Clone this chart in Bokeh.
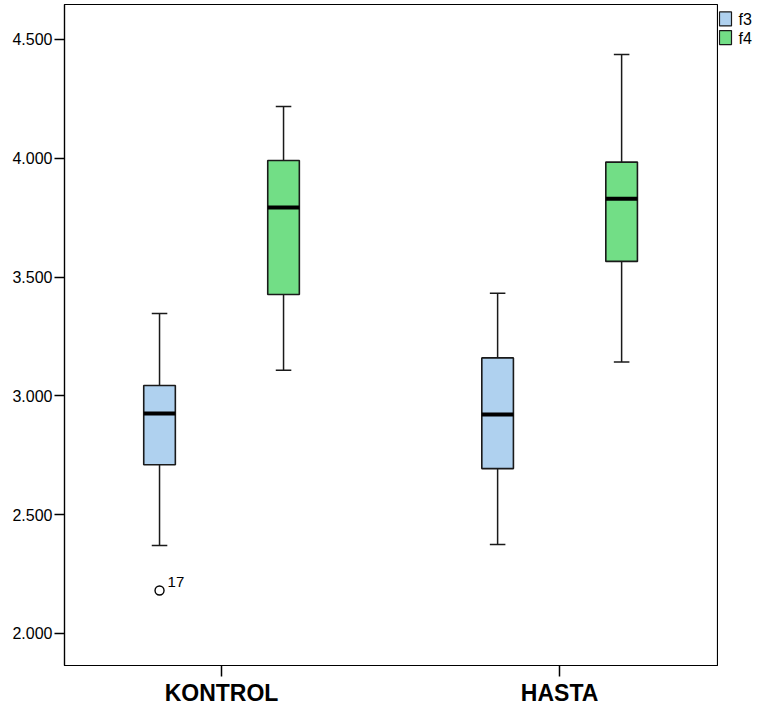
from bokeh.plotting import figure
from bokeh.models import (ColumnDataSource, FixedTicker, NumeralTickFormatter, Range1d)
from bokeh.layouts import row
from bokeh.embed import file_html
from bokeh.resources import INLINE
from bokeh.core.properties import value

# ---------------- data ----------------
groups = ["KONTROL", "HASTA"]
series = ["f3", "f4"]

f3_low = [2.370, 2.375]
f3_q1 = [2.710, 2.694]
f3_median = [2.926, 2.922]
f3_q3 = [3.044, 3.160]
f3_high = [3.347, 3.432]

f4_low = [3.108, 3.143]
f4_q1 = [3.427, 3.566]
f4_median = [3.793, 3.830]
f4_q3 = [3.991, 3.984]
f4_high = [4.218, 4.437]

outlier_group = ["KONTROL"]
outlier_series = ["f3"]
outlier_value = [2.181]
outlier_label = ["17"]

y_ticks = [2.0, 2.5, 3.0, 3.5, 4.0, 4.5]

colors = {"f3": "#AFD1EF", "f4": "#72DE86"}
offsets = {"f3": -0.1834, "f4": 0.1834}
box_w = 0.0935
cap_w = 0.046
FONT = "Liberation Sans"
H = 709

stats = {
    "f3": (f3_low, f3_q1, f3_median, f3_q3, f3_high),
    "f4": (f4_low, f4_q1, f4_median, f4_q3, f4_high),
}

p = figure(width=718, height=H, output_backend="svg", toolbar_location=None,
           x_range=Range1d(0.5355, 2.467), y_range=Range1d(1.8653, 4.6473),
           min_border_left=64, min_border_top=4, min_border_right=1,
           min_border_bottom=44)
p.xgrid.visible = False
p.ygrid.visible = False
p.outline_line_color = "black"
p.outline_line_width = 1.2
p.background_fill_color = "white"

for s in series:
    low, q1, med, q3, high = stats[s]
    xs = [i + 1 + offsets[s] for i in range(len(groups))]
    src = ColumnDataSource(dict(
        x=xs, left=[x - box_w / 2 for x in xs], right=[x + box_w / 2 for x in xs],
        cl=[x - cap_w / 2 for x in xs], cr=[x + cap_w / 2 for x in xs],
        low=low, q1=q1, med=med, q3=q3, high=high))
    # whiskers
    p.segment(x0="x", y0="q3", x1="x", y1="high", source=src, line_color="#1a1a1a", line_width=1.5)
    p.segment(x0="x", y0="q1", x1="x", y1="low", source=src, line_color="#1a1a1a", line_width=1.5)
    # caps
    p.segment(x0="cl", y0="high", x1="cr", y1="high", source=src, line_color="#1a1a1a", line_width=1.5)
    p.segment(x0="cl", y0="low", x1="cr", y1="low", source=src, line_color="#1a1a1a", line_width=1.5)
    # box
    p.quad(left="left", right="right", bottom="q1", top="q3", source=src,
           fill_color=colors[s], line_color="#1a1a1a", line_width=1.6)
    # median
    p.segment(x0="left", y0="med", x1="right", y1="med", source=src, line_color="black",
              line_width=4, line_cap="butt")

# outliers
ox = [groups.index(g) + 1 + offsets[s] for g, s in zip(outlier_group, outlier_series)]
osrc = ColumnDataSource(dict(x=ox, y=outlier_value, t=outlier_label))
p.scatter(x="x", y="y", source=osrc, marker="circle", size=9, fill_color="white",
          line_color="black", line_width=1.4)
p.text(x="x", y="y", text="t", source=osrc, x_offset=8, y_offset=-8,
       text_baseline="alphabetic", text_align="left", text_font=value(FONT),
       text_font_size="15px", text_color="black")

# axes
p.xaxis.ticker = FixedTicker(ticks=[1, 2])
p.xaxis.major_label_overrides = {1: groups[0], 2: groups[1]}
p.xaxis.major_label_text_font = FONT
p.xaxis.major_label_text_font_size = "23px"
p.xaxis.major_label_text_font_style = "bold"
p.xaxis.major_label_text_color = "black"
p.xaxis.major_label_standoff = 3
p.xaxis.major_tick_in = 0
p.xaxis.major_tick_out = 11
p.xaxis.minor_tick_line_color = None

p.yaxis.ticker = FixedTicker(ticks=y_ticks)
p.yaxis.formatter = NumeralTickFormatter(format="0.000")
p.yaxis.major_label_text_font = FONT
p.yaxis.major_label_text_font_size = "16px"
p.yaxis.major_label_text_color = "black"
p.yaxis.major_label_standoff = 2
p.yaxis.major_tick_in = 0
p.yaxis.major_tick_out = 10
p.yaxis.minor_tick_line_color = None

for ax in (p.xaxis[0], p.yaxis[0]):
    ax.axis_line_color = "black"
    ax.axis_line_width = 1.2
    ax.major_tick_line_color = "black"
    ax.major_tick_line_width = 1.5

# ---- legend panel (separate small figure to the right of the frame) ----
LW = 39
lg = figure(width=LW, height=H, output_backend="svg", toolbar_location=None,
            x_range=Range1d(0, LW), y_range=Range1d(H, 0),
            min_border=0, x_axis_type=None, y_axis_type=None)
lg.outline_line_color = None
lg.xgrid.visible = False
lg.ygrid.visible = False
row_top = [8 + 20 * i for i in range(len(series))]
lsrc = ColumnDataSource(dict(
    left=[1] * len(series), right=[13] * len(series),
    top=row_top, bottom=[t + 15 for t in row_top],
    ty=[t + 8 for t in row_top], tx=[20] * len(series),
    fill=[colors[s] for s in series], label=series))
lg.quad(left="left", right="right", top="top", bottom="bottom", source=lsrc,
        fill_color="fill", line_color="#1a1a1a", line_width=1.2)
lg.text(x="tx", y="ty", text="label", source=lsrc, text_baseline="middle",
        text_align="left", text_font=value(FONT), text_font_size="16px",
        text_color="black")

layout = row(p, lg, spacing=0)
open("out.html", "w").write(file_html(layout, INLINE))
